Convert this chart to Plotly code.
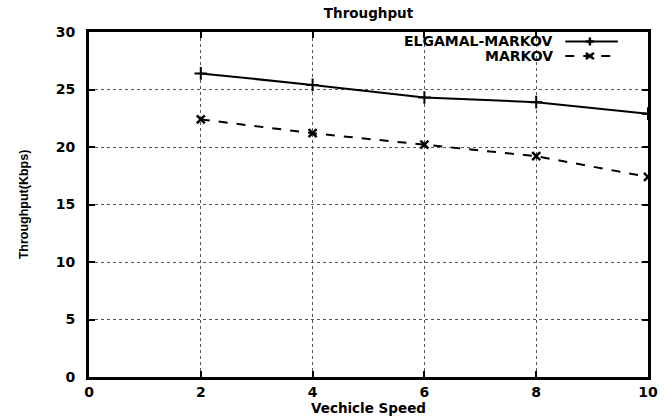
import plotly.graph_objects as go

speed = [2, 4, 6, 8, 10]
elgamal_markov = [26.4, 25.4, 24.3, 23.9, 22.9]
markov = [22.4, 21.2, 20.2, 19.2, 17.4]
x_ticks = [0, 2, 4, 6, 8, 10]
y_ticks = [0, 5, 10, 15, 20, 25, 30]
series_names = ["ELGAMAL-MARKOV", "MARKOV"]

FONT = "DejaVu Sans"
FONT2 = "Liberation Sans"

W, H = 665, 419
ML, MR, MT, MB = 89, 17, 32, 42

fig = go.Figure()
fig.add_trace(go.Scatter(
    x=speed, y=elgamal_markov, mode="lines+markers", name=series_names[0],
    line=dict(color="black", width=2),
    marker=dict(symbol="cross-thin", size=9, line=dict(color="black", width=2)),
    showlegend=False))
fig.add_trace(go.Scatter(
    x=speed, y=markov, mode="lines+markers", name=series_names[1],
    line=dict(color="black", width=2, dash="dash"),
    marker=dict(symbol="x-thin", size=8, line=dict(color="black", width=2.5)),
    showlegend=False))

# legend (text right-aligned, sample to the right, as in the reference)
leg_y = [0.9725, 0.9304]
lx0, lx1, lxm = 0.852, 0.946, 0.896
for i, (name, yy) in enumerate(zip(series_names, leg_y)):
    fig.add_annotation(x=0.834, y=yy, xref="paper", yref="paper", text=f"<b>{name}</b>",
                       xanchor="right", yanchor="middle", showarrow=False,
                       font=dict(family=FONT, size=14, color="black"))
    fig.add_shape(type="line", xref="paper", yref="paper", x0=lx0, x1=lx1, y0=yy, y1=yy,
                  line=dict(color="black", width=2, dash="solid" if i == 0 else "dash"))
    if i == 0:
        segs = [(-4, 0, 4, 0), (0, -4, 0, 4)]
    else:
        segs = [(-4, -3, 4, 3), (-4, 3, 4, -3)]
    for (a, b, c, d) in segs:
        fig.add_shape(type="line", xref="paper", yref="paper",
                      xsizemode="pixel", ysizemode="pixel", xanchor=lxm, yanchor=yy,
                      x0=a, x1=c, y0=b, y1=d, line=dict(color="black", width=2.5))

axis_common = dict(
    showline=True, linecolor="black", linewidth=3, mirror="ticks",
    ticks="inside", ticklen=6, tickwidth=2, tickcolor="black",
    showgrid=True, gridcolor="#555", griddash="dot", gridwidth=1,
    zeroline=False, automargin=False,
    tickfont=dict(family=FONT, size=14, color="black"),
)

fig.update_layout(
    width=W, height=H,
    margin=dict(l=ML, r=MR, t=MT, b=MB),
    plot_bgcolor="white", paper_bgcolor="white",
    font=dict(family=FONT, color="black"),
    title=dict(text="<b>Throughput</b>", x=0.5, xref="paper", y=1 - 13 / H, yanchor="middle",
               font=dict(family=FONT, size=13.5, color="black")),
    xaxis=dict(range=[0, 10], tickvals=x_ticks,
               ticktext=[f"<b>{t}</b>" for t in x_ticks],
               title=dict(text="<b>Vechicle Speed</b>", standoff=3,
                          font=dict(family=FONT, size=13.5, color="black")),
               **axis_common),
    yaxis=dict(range=[0, 30], tickvals=y_ticks,
               ticktext=[f"<b>{t}</b>" for t in y_ticks],
               ticklabelstandoff=8,
               title=dict(text="<b>Throughput(Kbps)</b>", standoff=25,
                          font=dict(family=FONT2, size=12.5, color="black")),
               **axis_common),
)

fig.write_html("out.html", config={"displayModeBar": False},
               post_script="document.body.style.margin='0';")
